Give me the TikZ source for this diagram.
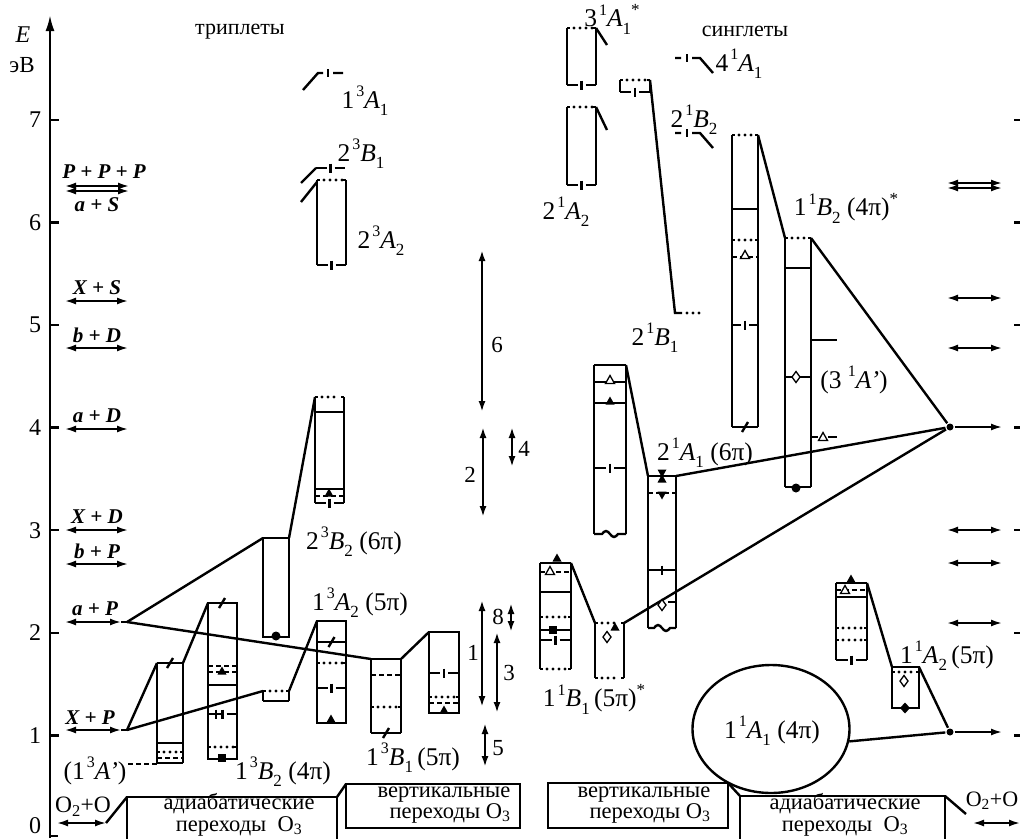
\documentclass[tikz,border=0pt]{standalone}
\usepackage{fontspec}
\setmainfont{Liberation Serif}
\usetikzlibrary{arrows.meta,calc,shapes.geometric}
\tikzset{
  dotln/.style={line width=3.2pt,line cap=round,dash pattern=on 0pt off 6pt},
  dashln/.style={dash pattern=on 5pt off 3pt},
  mk/.style={line width=1.3pt},
  txt/.style={inner sep=0pt,font=\fontsize{23.5}{25}\selectfont},
  btxt/.style={inner sep=0pt,align=center,font=\fontsize{22.5}{21.5}\selectfont},
  ttl/.style={inner sep=0pt,font=\fontsize{22}{23}\selectfont},
  trm/.style={inner sep=0pt,font=\fontsize{25.5}{27}\selectfont},
  lim/.style={inner sep=0pt,font=\bfseries\itshape\fontsize{21}{23}\selectfont},
  num/.style={inner sep=0pt,font=\fontsize{24}{26}\selectfont},
  sm/.style={inner sep=0pt,font=\fontsize{23}{25}\selectfont},
  dotnode/.style={circle,fill,inner sep=0pt,minimum size=7pt},
  limarr/.style={<->,line width=1.8pt},
}
\newcommand{\tm}[4]{#1\kern0.08em\raisebox{0.45em}{\fontsize{16}{16}\selectfont #2}\textit{#3}\raisebox{-0.3em}{\fontsize{17}{17}\selectfont #4}}
\newcommand{\starmk}{\raisebox{0.45em}{\fontsize{17}{17}\selectfont *}}
\newcommand{\hS}[3]{\draw (#1,#3)--(#2,#3);}
\newcommand{\hK}[3]{\draw[dashln] (#1,#3)--(#2,#3);}
\newcommand{\hD}[3]{\draw (#1,#3)--(#1+3,#3) (#2-3,#3)--(#2,#3); \draw[dotln] (#1+7,#3)--(#2-4,#3);}
\newcommand{\hI}[3]{\pgfmathsetmacro\hmx{(#1+#2)/2}\draw (#1,#3)--(\hmx-4,#3) (\hmx+4,#3)--(#2,#3); \draw (\hmx,#3-4.5)--(\hmx,#3+4.5);}
\newcommand{\hL}[3]{\pgfmathsetmacro\hmx{(#1+#2)/2}\draw (#1,#3)--(#2,#3); \draw (\hmx-3,#3+5)--(\hmx+3,#3-5);}
\newcommand{\hW}[3]{\pgfmathsetmacro\hmx{(#1+#2)/2}\draw (#1,#3)--(\hmx-8,#3) sin (\hmx-4,#3-3) cos (\hmx,#3) sin (\hmx+4,#3+3) cos (\hmx+8,#3)--(#2,#3);}
\newcommand{\sd}[3]{\draw (#1,#2)--(#1,#3);}
\newcommand{\mTri}[2]{\fill (#1,#2-5.5)--(#1+4.5,#2+2.5)--(#1-4.5,#2+2.5)--cycle;}
\newcommand{\mOTri}[2]{\filldraw[mk,fill=white] (#1,#2-5.5)--(#1+4.5,#2+2.5)--(#1-4.5,#2+2.5)--cycle;}
\newcommand{\mDTri}[2]{\fill (#1,#2+5.5)--(#1+4.5,#2-2.5)--(#1-4.5,#2-2.5)--cycle;}
\newcommand{\mODia}[2]{\filldraw[mk,fill=white] (#1,#2-5.5)--(#1+4,#2)--(#1,#2+5.5)--(#1-4,#2)--cycle;}
\newcommand{\mDia}[2]{\fill (#1,#2-5.5)--(#1+5,#2)--(#1,#2+5.5)--(#1-5,#2)--cycle;}
\newcommand{\mSq}[2]{\fill (#1-4,#2-4) rectangle (#1+4,#2+4);}
\newcommand{\mDot}[2]{\fill (#1,#2) circle [radius=4.5];}
\newcommand{\mPlus}[2]{\draw[mk] (#1-4.5,#2)--(#1+4.5,#2) (#1,#2-4.5)--(#1,#2+4.5);}
\begin{document}
\begin{tikzpicture}[x=1pt,y=-1pt,line width=2.4pt,>={Latex[length=11pt,width=7pt]}]
\useasboundingbox (0,0) rectangle (1020,838);
\fill[white] (0,0) rectangle (1020,838);
% ---------- axis
\draw[-{Latex[length=16pt,width=9pt]}] (50,838)--(50,15);
\draw (50,836)--(58,836);
\foreach \v in {1,...,7}{\draw (50,838-102.6*\v)--(59,838-102.6*\v); \node[num] (tk\v) at (35,838-102.6*\v) {\v};}
\node[num] (tk0) at (35,826) {0};
\node[num,font=\itshape\fontsize{24}{26}\selectfont] (Elab) at (23,35) {E};
\node[sm] (eV) at (22,65) {эВ};
\node[ttl] (trip) at (240,32) {триплеты};
\node[ttl] (sing) at (745,31) {синглеты};
% ---------- dissociation limits (left)
\draw[limarr] (65,186)--(129,186);
\draw[limarr] (65,191)--(129,191);
\node[lim] (PPP) at (104,172) {P + P + P};
\node[lim] (aS) at (97,205) {a + S};
\foreach \yy/\nm/\tx in {301/XS/X + S,348/bD/b + D,429/aD/a + D,530/XD/X + D,564/bP/b + P}{
  \draw[limarr] (65,\yy)--(128,\yy);
  \node[lim] (\nm) at (97,\yy-13) {\tx};}
\draw[limarr] (65,622)--(121,622); \draw (121,622)--(127,622);
\coordinate (aP) at (127,622);
\node[lim] (aPl) at (95,609) {a + P};
\draw[limarr] (65,730)--(121,730); \draw (121,730)--(127,730);
\coordinate (XP) at (127,730);
\node[lim] (XPl) at (90,718) {X + P};
% ---------- bottom boxes
\draw[limarr] (57,823)--(106,823);
\node[txt] (O2Ol) at (83,807) {O\textsubscript{2}+O};
\draw (106,823)--(127,797);
\draw (127,850)--(127,797)--(337,797)--(337,850);
\node[btxt] (b1) at (239,815) {адиабатические\\переходы~~O\textsubscript{3}};
\draw (337,797)--(346,784);
\draw (346,784) rectangle (520,828);
\node[btxt] (b2) at (444,805) {вертикальные\\\hspace*{12pt}переходы~O\textsubscript{3}};
\draw (548,783) rectangle (728,828);
\node[btxt] (b3) at (644,805) {вертикальные\\\hspace*{12pt}переходы~O\textsubscript{3}};
\draw (728,783)--(740,796);
\draw (740,850)--(740,796)--(945,796)--(945,850);
\node[btxt] (b4) at (845,815) {адиабатические\\переходы~~O\textsubscript{3}};
\draw (945,796)--(966,814);
\draw[limarr] (973,823)--(1020,823);
\node[txt,font=\fontsize{22}{24}\selectfont] (O2Or) at (992,801) {O\textsubscript{2}+O};
% ---------- triplets
% (1^3A')
\sd{157}{663}{763} \sd{183}{663}{763}
\hL{157}{183}{663} \hS{157}{183}{743} \hD{157}{183}{752} \hK{157}{183}{758} \hS{157}{183}{763}
\coordinate (A1tl) at (157,663); \coordinate (A1tr) at (183,663);
\draw[dashln] (128,764)--(157,764);
\node[trm] (lA1) at (95,772) {(\tm{1}{3}{A’}{})};
% 1^3B_2
\draw (208,603) rectangle (237,759); \draw (219,608)--(225,598);
\hK{208}{237}{666} \hK{208}{237}{672} \mTri{222}{672} \hS{208}{237}{685}
\hI{208}{237}{714} \mPlus{216}{714} \hD{208}{237}{747} \mSq{222}{758}
\coordinate (B2tl) at (208,603);
\node[trm] (lB2) at (283,772) {\tm{1}{3}{B}{2}\ (4π)};
% small box (adiabatic 1^3A_2)
\sd{263}{691}{701} \sd{289}{691}{701} \hS{263}{289}{701} \hD{263}{289}{691}
\coordinate (Ctl) at (263,691); \coordinate (Ctr) at (289,691);
% 2^3B_2 lower
\draw (263,538) rectangle (289,637); \mDot{276}{636}
\coordinate (Dtl) at (263,538); \coordinate (Dtr) at (289,538);
% 2^3B_2 upper
\sd{315}{397}{503} \sd{344}{397}{503}
\hD{315}{344}{397} \hS{315}{344}{412} \hS{315}{344}{489} \hK{315}{344}{496} \mTri{329}{494} \hI{315}{344}{503}
\coordinate (Etl) at (315,397);
\node[trm] (lB26) at (354,542) {\tm{2}{3}{B}{2}\ (6π)};
% 1^3A_2
\draw (317,621) rectangle (346,723);
\hL{317}{346}{642} \hD{317}{346}{663} \hI{317}{346}{688} \mTri{331}{720}
\coordinate (Ftl) at (317,621);
\node[trm] (lA2) at (360,603) {\tm{1}{3}{A}{2}\ (5π)};
% 1^3B_1
\sd{371}{659}{733} \sd{401}{659}{733}
\hS{371}{401}{659} \hK{371}{401}{675} \hD{371}{401}{707} \hL{371}{401}{733}
\coordinate (Gtl) at (371,659); \coordinate (Gtr) at (401,659);
\node[trm] (lB1) at (413,758) {\tm{1}{3}{B}{1}\,(5π)};
% next box
\draw (429,632) rectangle (459,713);
\hI{429}{459}{673} \hD{429}{459}{697} \hK{429}{459}{703} \mTri{444}{711}
\coordinate (Htl) at (429,632);
% connectors
\draw (aP)--(Dtl); \draw (aP)--(Gtl); \draw (XP)--(A1tl); \draw (XP)--(Ctl);
\draw (A1tr)--(B2tl); \draw (Dtr)--(Etl); \draw (Ctr)--(Ftl); \draw (Gtr)--(Htl);
% upper triplets
\draw (303,90)--(318,73)--(323,73) (333,73)--(343,73); \draw (328,69)--(328,77);
\node[trm] (lA1t) at (365,101) {\tm{1}{3}{A}{1}};
\draw (301,183)--(316,168); \hI{316}{345}{168}
\node[trm] (lB1t) at (361,154) {\tm{2}{3}{B}{1}};
\draw (301,202)--(317,182);
\sd{317}{180}{265} \sd{346}{180}{265} \hD{317}{346}{180} \hI{317}{346}{265}
\node[trm] (lA2t) at (381,241) {\tm{2}{3}{A}{2}};
% vertical transition arrows
\draw[<->] (482,250)--(482,412); \node[sm] (n6) at (497,345) {6};
\draw[<->] (483,427)--(483,517); \node[sm] (n2) at (470,475) {2};
\draw[<->] (512,427)--(512,467); \node[sm] (n4) at (524,449) {4};
\draw[<->] (482,600)--(482,707); \node[sm] (n1) at (473,653) {1};
\draw[<->,line width=2.8pt] (497,632)--(497,713); \node[sm] (n3) at (509,673) {3};
\draw[<->] (511,603)--(511,632); \node[sm] (n8) at (498,617) {8};
\draw[<->] (485,723)--(485,767); \node[sm] (n5) at (498,748) {5};
% ---------- singlets
% 3^1A_1*
\sd{567}{28}{85} \sd{596}{28}{85} \hD{567}{596}{28} \hI{567}{596}{85}
\draw (596,28)--(607,45);
\node[trm] (l3A1) at (612,19) {\tm{3}{1}{A}{1}\starmk};
% 2^1A_2
\sd{567}{107}{185} \sd{596}{107}{185} \hD{567}{596}{107} \hI{567}{596}{185}
\draw (596,107)--(607,130);
\node[trm] (l2A2) at (566,212) {\tm{2}{1}{A}{2}};
% small box -> 2^1B_1
\sd{620}{80}{92} \sd{650}{80}{92} \hD{620}{650}{80} \hI{620}{650}{92}
\coordinate (Ntr) at (650,80); \coordinate (Nb) at (675,313);
\draw (Ntr)--(Nb)--(682,313); \draw[dotln] (687,313)--(703,313);
\node[trm] (l2B1) at (655,338) {\tm{2}{1}{B}{1}};
% 4^1A_1 and 2^1B_2
\draw (675,58)--(681,58) (692,58)--(700,58)--(713,73); \draw (687,54)--(687,62);
\node[trm] (l4A1) at (739,64) {\tm{4}{1}{A}{1}};
\draw (675,133)--(681,133) (692,133)--(700,133)--(713,148); \draw (687,129)--(687,137);
\node[trm] (l2B2) at (694,120) {\tm{2}{1}{B}{2}};
% Q box
\sd{732}{135}{427} \sd{758}{135}{427}
\hD{732}{758}{135} \hS{732}{758}{209} \hD{732}{758}{240} \hK{732}{758}{257} \mOTri{745}{256}
\hI{732}{758}{325} \hL{732}{758}{427}
\coordinate (Qtr) at (758,135);
% R box
\sd{785}{238}{487} \sd{811}{238}{487}
\hD{785}{811}{238} \hS{785}{811}{268} \draw (811,340)--(837,340);
\hS{785}{811}{377} \mODia{796}{377}
\draw (811,437)--(818,437) (828,437)--(837,437); \mOTri{823}{438}
\hS{785}{811}{487} \mDot{796}{488}
\coordinate (Rtl) at (785,238); \coordinate (Rtr) at (811,238);
\node[trm] (l3Ap) at (854,381) {(3\,\tm{}{1}{A’}{})};
\node[trm] (l1B2) at (846,208) {\tm{1}{1}{B}{2}\ (4π)\starmk};
\node[dotnode] (c1) at (950,427) {};
% V box
\sd{594}{365}{534} \sd{626}{365}{534}
\hS{594}{626}{365} \hS{594}{626}{382} \mOTri{610}{381} \hS{594}{626}{403} \mTri{610}{402}
\hI{594}{626}{468} \hW{594}{626}{534}
\coordinate (Vtr) at (626,365);
% T box
\sd{648}{476}{628} \sd{676}{476}{628}
\hS{648}{676}{476} \mDTri{662}{472} \mTri{662}{480}
\hK{648}{676}{493} \mDTri{662}{494} \hS{648}{676}{570} \mPlus{662}{570}
\draw (668,602)--(676,602); \hW{648}{676}{628}
\coordinate (Ttl) at (648,476); \coordinate (Ttr) at (676,476);
\node[trm] (l2A1) at (705,453) {\tm{2}{1}{A}{1}\ (6π)};
% W box
\sd{540}{563}{669} \sd{571}{563}{669}
\hS{540}{571}{563} \mTri{557}{559} \hK{540}{571}{572} \mOTri{550}{572}
\hS{540}{571}{592} \hD{540}{571}{617} \hS{540}{571}{630} \mSq{553}{630}
\hI{540}{571}{640} \hD{540}{571}{669}
\coordinate (Wtr) at (571,563);
% U box
\sd{595}{623}{678} \sd{624}{623}{678}
\hD{595}{624}{623} \mTri{615}{628} \mODia{607}{637} \hD{595}{624}{678}
\coordinate (Utl) at (595,623); \coordinate (Utr) at (624,623);
\node[trm] (l1B1) at (594,699) {\tm{1}{1}{B}{1}\,(5π)\starmk};
% connectors singlets (upper)
\draw (Qtr)--(Rtl); \draw (Rtr)--(c1); \draw (Vtr)--(Ttl); \draw (Ttr)--(c1);
\draw (Wtr)--(Utl); \draw (Utr)--(c1);
\mODia{662}{605}
% Y box
\sd{836}{583}{660} \sd{867}{583}{660}
\hS{836}{867}{583} \mTri{851}{580} \hK{836}{867}{590} \mOTri{845}{591}
\hS{836}{867}{597} \hD{836}{867}{628} \hD{836}{867}{640} \hI{836}{867}{660}
\coordinate (Ytr) at (867,583);
% Z box
\draw (892,667) rectangle (919,708); \hD{892}{919}{672} \mODia{904}{681} \mDia{905}{708}
\coordinate (Ztl) at (892,667); \coordinate (Ztr) at (919,667);
\node[trm] (l1A2) at (947,656) {\tm{1}{1}{A}{2}\,(5π)};
% ellipse ground state
\node[draw,ellipse,minimum width=157pt,minimum height=128pt,inner sep=0pt] (ell) at (771,729) {};
\node[trm] (l1A1) at (772,731) {\tm{1}{1}{A}{1}\ (4π)};
\node[dotnode] (c2) at (950,732) {};
\draw (Ytr)--(Ztl); \draw (Ztr)--(c2); \draw (ell.-9)--(c2);
% ---------- right limits
\draw[limarr] (947,183)--(1002,183); \draw[limarr] (947,188)--(1002,188);
\foreach \yy in {298,348,530,563,623}{\draw[limarr] (947,\yy)--(1002,\yy);}
\draw[->,line width=1.8pt] (c1)--(1002,427);
\draw[->,line width=1.8pt] (c2)--(1002,732);
\foreach \v in {1,...,7}{\draw (1014,838-102.6*\v)--(1020,838-102.6*\v);}
\end{tikzpicture}
\end{document}
